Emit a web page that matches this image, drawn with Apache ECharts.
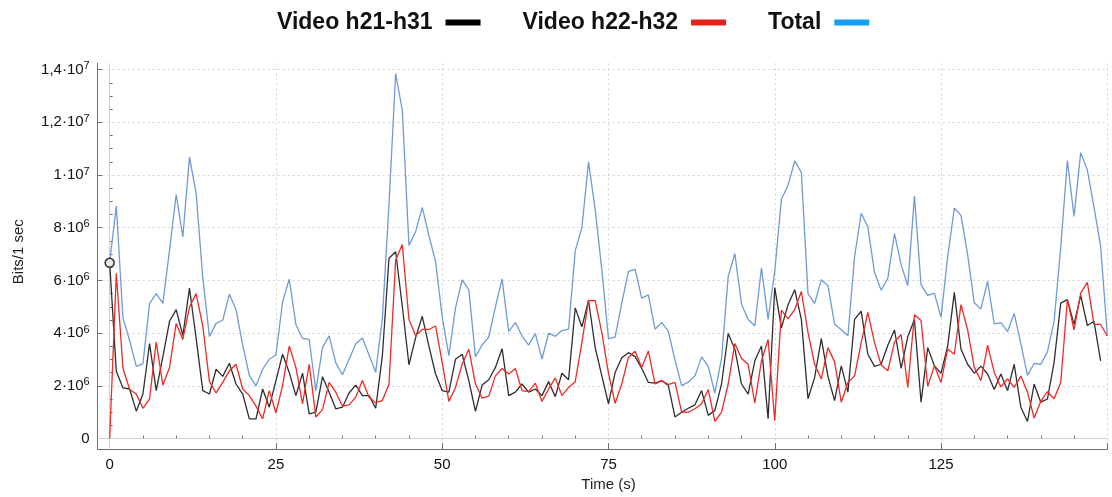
<!DOCTYPE html>
<html><head><meta charset="utf-8">
<script src="https://cdn.jsdelivr.net/npm/echarts@6.0.0/dist/echarts.min.js"></script>
<style>html,body{margin:0;padding:0;background:#fff}#c{width:1112px;height:497px}</style>
</head><body><div id="c"></div>
<script>
// Values in megabits per 1 s interval (one sample per second, starting at t = 0 s)
const seriesNames = ['Video h21-h31', 'Video h22-h32', 'Total'];
const videoH21H31 = [6.67,2.55,1.92,1.88,1.04,1.69,3.60,1.82,3.11,4.45,4.89,3.91,5.71,3.80,1.82,1.69,2.63,2.36,2.86,2.07,
1.69,0.75,0.75,1.88,1.19,2.20,3.20,2.51,1.63,2.48,0.94,1.00,2.35,1.76,1.13,1.19,1.73,2.03,1.63,1.63,
1.15,3.14,6.84,7.09,5.02,2.80,3.83,4.64,3.51,2.45,1.82,1.76,3.01,3.20,2.20,1.03,2.03,2.23,2.70,3.41,
1.63,1.76,2.07,1.76,1.88,1.63,2.16,1.59,2.48,2.23,4.96,4.24,5.24,3.45,2.38,1.32,2.51,3.07,3.26,3.11,
2.66,2.13,2.10,2.20,2.01,0.82,1.00,1.15,1.28,1.82,0.88,1.07,2.07,3.99,3.39,2.07,1.69,2.95,3.51,0.75,
5.73,4.20,5.08,5.65,4.52,1.51,2.32,3.79,2.36,1.44,2.76,1.76,4.52,4.83,3.20,2.74,2.82,3.54,4.12,2.66,
3.86,4.52,1.38,3.45,2.76,2.48,3.51,5.55,3.39,2.82,2.48,2.75,2.45,1.86,2.45,1.82,2.82,1.19,0.65,2.07,
1.38,1.50,2.89,5.14,5.27,4.33,5.43,4.29,4.45,2.95];
const videoH22H32 = [0,6.27,2.67,1.86,1.69,1.15,1.51,3.66,2.03,2.70,4.37,3.76,4.99,5.50,4.27,2.16,1.73,2.13,2.57,2.82,
1.88,1.63,1.23,0.75,1.82,0.98,2.01,3.51,2.70,1.32,2.82,0.82,1.10,2.13,1.76,1.23,1.28,1.57,2.20,1.57,
1.36,1.44,2.07,6.78,7.36,4.52,3.91,4.14,4.14,4.27,2.89,1.41,1.94,2.82,3.39,2.07,1.53,1.61,2.38,2.66,
2.45,2.66,1.82,1.78,2.10,1.41,1.88,2.30,1.63,1.94,2.16,3.64,5.24,5.23,4.02,2.47,1.34,2.07,3.08,3.31,
2.70,3.32,2.07,2.20,2.05,2.13,1.00,1.00,1.13,1.32,1.86,0.65,1.00,2.07,3.61,3.04,2.82,1.34,2.95,3.76,
0.69,4.87,4.54,4.89,5.58,4.02,2.82,2.26,3.45,2.91,1.38,2.13,2.38,3.64,4.79,3.64,2.79,2.57,3.66,3.95,
1.94,4.70,4.48,1.98,2.76,2.13,3.40,3.20,5.08,4.12,2.70,2.20,3.54,2.51,1.96,2.26,1.94,2.37,1.76,0.78,
1.42,1.78,1.51,2.13,5.27,4.12,5.52,5.93,4.33,4.33,3.89];
const totalBits = [6.70,8.82,4.57,3.72,2.74,2.83,5.12,5.50,5.13,7.15,9.26,7.65,10.68,9.30,6.10,3.87,4.37,4.49,5.48,4.89,
3.55,2.40,2.00,2.63,3.01,3.17,5.19,6.05,4.33,3.80,3.76,1.82,3.45,3.90,2.87,2.42,3.01,3.60,3.82,3.17,
2.52,4.55,8.90,13.85,12.45,7.33,7.85,8.77,7.70,6.72,4.62,3.15,4.96,6.02,5.65,3.10,3.55,3.85,5.00,6.06,
4.06,4.40,3.90,3.55,3.98,3.02,4.00,3.88,4.10,4.15,7.13,8.00,10.50,8.70,6.40,3.79,3.85,5.14,6.34,6.42,
5.33,5.45,4.15,4.41,4.07,2.98,2.01,2.14,2.38,3.10,2.74,1.73,3.04,6.15,7.02,5.10,4.52,4.28,6.48,4.52,
6.35,9.08,9.61,10.54,10.09,5.50,5.13,6.03,5.80,4.34,4.13,3.90,6.90,8.55,8.03,6.30,5.63,6.08,7.78,6.60,
5.80,9.20,5.83,5.43,5.52,4.60,6.90,8.75,8.47,6.98,5.15,4.92,5.97,4.35,4.40,4.06,4.75,3.60,2.40,2.85,
2.82,3.29,4.45,7.27,10.55,8.43,10.85,10.19,8.78,7.30,3.92];
const MEGA = 1e6;
const xMajorTicks = [0, 25, 50, 75, 100, 125, 150];
const xTickLabels = [0, 25, 50, 75, 100, 125];
const xMinorTicks = [5,10,15,20,30,35,40,45,55,60,65,70,80,85,90,95,105,110,115,120,130,135,140,145];
const yMajorTicks = [0, 2e6, 4e6, 6e6, 8e6, 1e7, 1.2e7, 1.4e7];
const yMinorTicks = [0.5e6,1e6,1.5e6,2.5e6,3e6,3.5e6,4.5e6,5e6,5.5e6,6.5e6,7e6,7.5e6,8.5e6,9e6,9.5e6,
  10.5e6,11e6,11.5e6,12.5e6,13e6,13.5e6];

const toData = arr => arr.map((v, i) => [i, v * MEGA]);
const blackData = toData(videoH21H31);
blackData[0] = {value: blackData[0], symbol: 'circle', symbolSize: 9,
  itemStyle: {color: '#e6e6e6', borderColor: '#333', borderWidth: 1.5}};

const font = '"Liberation Sans", Arial, sans-serif';
const axisGray = '#6e6e6e';
const yLabel = v => {
  if (v === 0) return '0';
  const e = v >= 1e7 ? 7 : 6;
  const m = String(Math.round(v / Math.pow(10, e) * 10) / 10).replace('.', ',');
  return '{m|' + m + '·10}{e|' + e + '}';
};
const grid = {type: [2, 3], color: '#d3d3d3', width: 1};

const chart = echarts.init(document.getElementById('c'), null, {renderer: 'canvas'});
chart.setOption({
  animation: false,
  textStyle: {fontFamily: font},
  legend: {
    left: 272, top: 6, align: 'right', icon: 'rect', itemWidth: 35, itemHeight: 6, itemGap: 42,
    textStyle: {fontSize: 23, fontWeight: 'bold', color: '#111', fontFamily: font, padding: [0, 8, 0, 0]},
    data: [
      {name: seriesNames[0], itemStyle: {color: '#000000'}},
      {name: seriesNames[1], itemStyle: {color: '#e3241b'}},
      {name: seriesNames[2], itemStyle: {color: '#169ff2'}}
    ]
  },
  grid: {left: 97.7, right: 4.7, top: 63.3, bottom: 44.7},
  xAxis: [{
    type: 'value', min: -1.8, max: 150, position: 'bottom',
    name: 'Time (s)', nameLocation: 'middle', nameGap: 20,
    nameTextStyle: {fontSize: 15, color: '#222', padding: [0, 0, 0, 12]},
    axisLine: {show: true, onZero: false, lineStyle: {color: axisGray, width: 1}},
    axisTick: {show: true, inside: true, length: 6, customValues: xMajorTicks, lineStyle: {color: axisGray}},
    axisLabel: {customValues: xTickLabels, fontSize: 15, color: '#111', margin: 8},
    splitLine: {show: true, lineStyle: grid}
  }, {
    type: 'value', min: -1.8, max: 150, position: 'bottom',
    axisLine: {show: false},
    axisTick: {show: true, inside: true, length: 3, customValues: xMinorTicks, lineStyle: {color: axisGray}},
    axisLabel: {show: false}, splitLine: {show: false}
  }],
  yAxis: [{
    type: 'value', min: -0.4e6, max: 1.424e7, position: 'left',
    name: 'Bits/1 sec', nameLocation: 'middle', nameGap: 71, nameRotate: 90,
    nameTextStyle: {fontSize: 15, color: '#222', padding: [0, 0, 0, 9]},
    axisLine: {show: true, onZero: false, lineStyle: {color: axisGray, width: 1}},
    axisTick: {show: true, inside: true, length: 4.5, customValues: yMajorTicks, lineStyle: {color: axisGray}},
    axisLabel: {customValues: yMajorTicks, formatter: yLabel, margin: 8, fontSize: 15, color: '#111',
      rich: {m: {fontSize: 15, color: '#111', lineHeight: 18, fontFamily: font},
             e: {fontSize: 11, color: '#111', lineHeight: 11, verticalAlign: 'top', fontFamily: font}}},
    splitLine: {show: true, lineStyle: grid}
  }, {
    type: 'value', min: -0.4e6, max: 1.424e7, position: 'left',
    axisLine: {show: false},
    axisTick: {show: true, inside: true, length: 3, customValues: yMinorTicks, lineStyle: {color: axisGray}},
    axisLabel: {show: false}, splitLine: {show: false}
  }],
  series: [{
    name: seriesNames[0], type: 'line', data: blackData, symbol: 'none', showSymbol: true,
    lineStyle: {color: '#2e2e2e', width: 1.3}, itemStyle: {color: '#2e2e2e'}, z: 3,
    markLine: {silent: true, z: 1, symbol: 'none', label: {show: false}, animation: false,
      lineStyle: {color: '#d0d0d0', type: 'solid', width: 1},
      emphasis: {disabled: true},
      data: [{xAxis: 0}, {yAxis: 0}]}
  }, {
    name: seriesNames[1], type: 'line', data: toData(videoH22H32), symbol: 'none',
    lineStyle: {color: '#ee2a24', width: 1.3}, itemStyle: {color: '#ee2a24'}, z: 3
  }, {
    name: seriesNames[2], type: 'line', data: toData(totalBits), symbol: 'none',
    lineStyle: {color: '#6e9bd6', width: 1.3}, itemStyle: {color: '#6e9bd6'}, z: 2
  }]
});
</script></body></html>
